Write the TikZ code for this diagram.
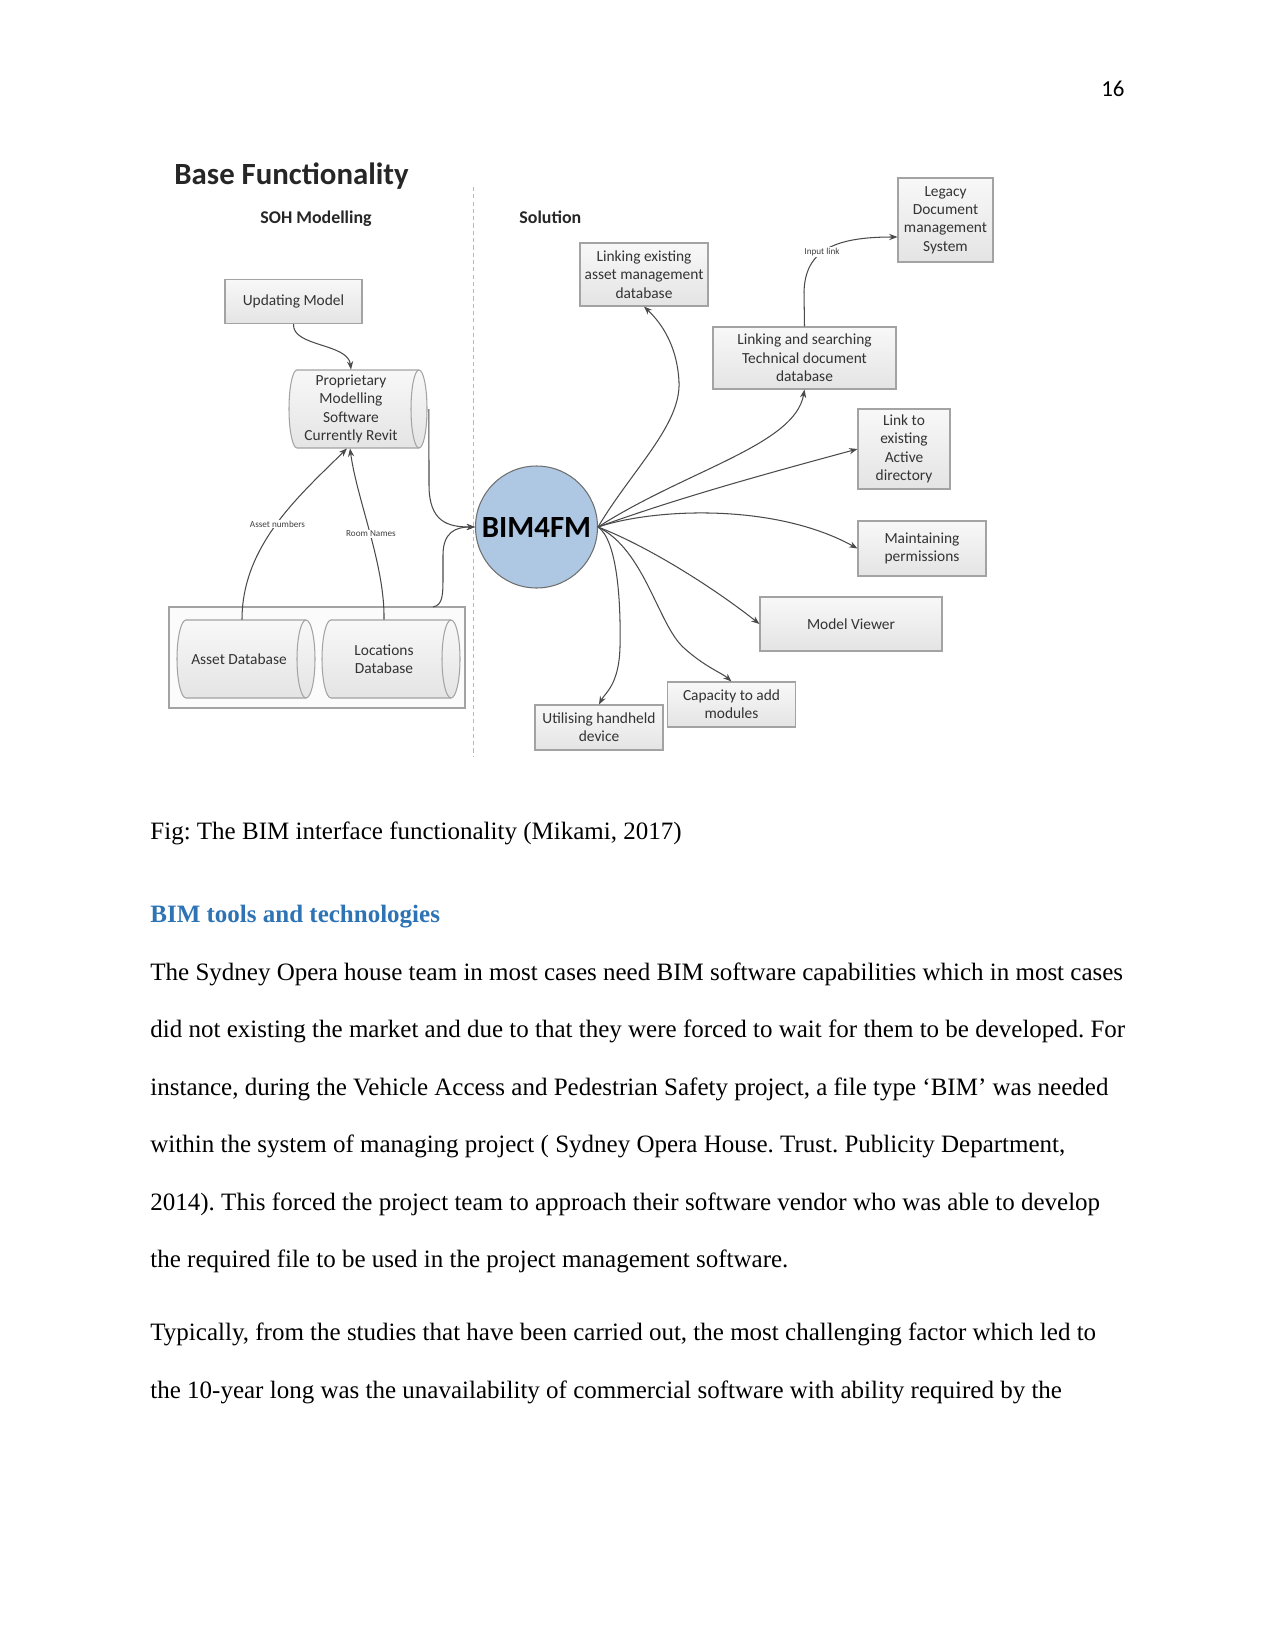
\documentclass[tikz,border=0pt]{standalone}
\usepackage{fontspec}
\setmainfont{Liberation Serif}
\newfontfamily\diafont{Carlito}
\usetikzlibrary{arrows.meta,calc}
\frenchspacing
\definecolor{linec}{HTML}{4A4A4A}
\definecolor{boxline}{HTML}{A3A3A3}
\definecolor{boxtop}{HTML}{F8F8F8}
\definecolor{boxbot}{HTML}{E4E4E4}
\definecolor{bimblue}{HTML}{AEC7E2}
\definecolor{headblue}{HTML}{2E74B5}
\newcommand\pxd[1]{#1*0.48pt}
\tikzset{
  box/.style={draw=boxline, line width=0.5pt, top color=boxtop, bottom color=boxbot,
    inner sep=0pt, align=center, text=black!80,
    font=\diafont\fontsize{7.4}{8.8}\selectfont},
  cyltext/.style={inner sep=0pt, align=center, text=black!80,
    font=\diafont\fontsize{7.4}{8.8}\selectfont},
  conn/.style={draw=linec, line width=0.5pt, -{Stealth[length=4pt,width=3pt]}},
  tinylbl/.style={font=\diafont\fontsize{4.4}{5}\selectfont, fill=white, inner sep=0.4pt, text=black!75},
  body/.style={anchor=base west, inner sep=0pt, font=\fontsize{12}{14}\selectfont},
  cylout/.style={draw=boxline, line width=0.5pt, top color=boxtop, bottom color=boxbot},
  headtxt/.style={anchor=base west, inner sep=0pt, text=black!85},
}
% cylinder outline: x0 y0 x1 y1 rx (pixel units)
\newcommand\cylshape[5]{%
  \path[cylout] (#1+#5,#2) -- (#3-#5,#2)
    arc[start angle=90,end angle=-90,x radius={#5*0.48pt},y radius={(#4-#2)*0.24pt}]
    -- (#1+#5,#4)
    arc[start angle=270,end angle=90,x radius={#5*0.48pt},y radius={(#4-#2)*0.24pt}]
    -- cycle;
  \draw[draw=boxline, line width=0.5pt] (#3-#5,#2)
    arc[start angle=90,end angle=270,x radius={#5*0.48pt},y radius={(#4-#2)*0.24pt}];
}
\begin{document}
\begin{tikzpicture}[x=0.48pt,y=-0.48pt]
\useasboundingbox (0,0) rectangle (1275,1651);
\fill[white] (0,0) rectangle (1275,1651);

% page number
\node[anchor=base east, inner sep=0pt, font=\diafont\fontsize{11}{13}\selectfont] (pagenum) at (1125,97) {16};

% headings of the diagram
\node[headtxt, font=\diafont\bfseries\fontsize{14.8}{17}\selectfont] (title) at (174,185) {Base Functionality};
\node[headtxt, font=\diafont\bfseries\fontsize{8.6}{10}\selectfont] (soh) at (260,223) {SOH Modelling};
\node[headtxt, font=\diafont\bfseries\fontsize{8.6}{10}\selectfont] (sol) at (519,223) {Solution};

% dashed separator
\draw[gray!55, line width=0.4pt, dash pattern=on 2pt off 1.5pt] (473,187) -- (473,756);

% left side
\node[box, minimum width=\pxd{137}, minimum height=\pxd{44}] (upd) at (293.5,301.5) {Updating Model};

\cylshape{289}{370}{427}{448}{8}
\node[cyltext, minimum width=\pxd{119}, minimum height=\pxd{78}] (prop) at (351,409)
  {Proprietary\\Modelling\\Software\\Currently Revit};

\node[draw=boxline, line width=0.5pt, fill=gray!3, minimum width=\pxd{296}, minimum height=\pxd{101}, inner sep=0pt] (dbgroup) at (317,657.5) {};
\cylshape{177}{620}{315}{698}{9}
\node[cyltext, minimum width=\pxd{120}, minimum height=\pxd{78}] (asset) at (239,659) {Asset Database};
\cylshape{322}{620}{460}{698}{9}
\node[cyltext, minimum width=\pxd{120}, minimum height=\pxd{78}] (loc) at (384,659) {Locations\\Database};

% centre
\node[circle, draw=linec!80, line width=0.5pt, fill=bimblue, minimum size=\pxd{122}, inner sep=0pt,
  text=black, font=\diafont\bfseries\fontsize{14.8}{16}\selectfont] (bim) at (536.5,527) {BIM4FM};

% right side boxes
\node[box, minimum width=\pxd{128}, minimum height=\pxd{63}] (lnkasset) at (644,274.5)
  {Linking existing\\asset management\\database};
\node[box, minimum width=\pxd{183}, minimum height=\pxd{62}] (lnksearch) at (804.5,358)
  {Linking and searching\\Technical document\\database};
\node[box, minimum width=\pxd{95}, minimum height=\pxd{84}] (legacy) at (945.5,220)
  {Legacy\\Document\\management\\System};
\node[box, minimum width=\pxd{92}, minimum height=\pxd{80}] (active) at (904,449)
  {Link to\\existing\\Active\\directory};
\node[box, minimum width=\pxd{128}, minimum height=\pxd{55}] (maint) at (922,548.5)
  {Maintaining\\permissions};
\node[box, minimum width=\pxd{182}, minimum height=\pxd{54}] (viewer) at (851,624)
  {Model Viewer};
\node[box, minimum width=\pxd{128}, minimum height=\pxd{45}] (capacity) at (731.5,704.5)
  {Capacity to add\\modules};
\node[box, minimum width=\pxd{128}, minimum height=\pxd{45}] (handheld) at (599,727.5)
  {Utilising handheld\\device};

% connectors, left side
\draw[conn] (upd.south) .. controls (292,347) and (348,343) .. (prop.north);
\draw[conn] ($(asset.north)+(3,0)$) .. controls (242,545) and (300,495) .. ($(prop.south)+(-4,0)$);
\node[tinylbl] (lblasset) at (277.5,524) {Asset numbers};
\draw[conn] (loc.north) .. controls (385,565) and (357,500) .. ($(prop.south)+(-1,0)$);
\node[tinylbl] (lblroom) at (371,534) {Room Names};
\draw[conn] ($(prop.east)+(18,0)$) -- (429,485) .. controls (429,522) and (448,527) .. (bim.west);
\coordinate (grpout) at (433,607);
\draw[conn] (grpout) .. controls (443,605) and (443,595) .. (443,575) -- (443,555)
  .. controls (443,532) and (456,527) .. (bim.west);

% connectors, right side
\draw[conn] (bim.east) .. controls (632,470) and (681,425) .. (679,382)
  .. controls (677,340) and (656,318) .. (lnkasset.south);
\draw[conn] (bim.east) .. controls (687,470) and (795,445) .. (lnksearch.south);
\draw[conn] (bim.east) .. controls (680,497) and (780,470) .. (active.west);
\draw[conn] (bim.east) .. controls (655,508) and (775,503) .. (maint.west);
\draw[conn] (bim.east) .. controls (645,545) and (710,585) .. (viewer.west);
\draw[conn] (bim.east) .. controls (645,550) and (658,625) .. (684,648)
  .. controls (705,667) and (722,673) .. (capacity.north);
\draw[conn] (bim.east) .. controls (617,540) and (621,600) .. (620,647)
  .. controls (619,685) and (605,693) .. (handheld.north);
\draw[conn] (lnksearch.north) -- (804,292) .. controls (805,250) and (835,237) .. ($(legacy.west)+(0,17)$);
\node[tinylbl] (lblinput) at (822,252) {Input link};

% text below the figure
\node[body] (cap) at (150,839) {Fig: The BIM interface functionality (Mikami, 2017)};
\node[body, font=\bfseries\fontsize{12}{14}\selectfont, text=headblue] (head) at (150,922) {BIM tools and technologies};
\node[body] (l1) at (150,980) {The Sydney Opera house team in most cases need BIM software capabilities which in most cases};
\node[body] (l2) at (150,1037.5) {did not existing the market and due to that they were forced to wait for them to be developed. For};
\node[body] (l3) at (150,1095) {instance, during the Vehicle Access and Pedestrian Safety project, a file type ‘BIM’ was needed};
\node[body] (l4) at (150,1152.5) {within the system of managing project ( Sydney Opera House. Trust. Publicity Department,};
\node[body] (l5) at (150,1210) {2014). This forced the project team to approach their software vendor who was able to develop};
\node[body] (l6) at (150,1267.5) {the required file to be used in the project management software.};
\node[body] (l7) at (150,1340) {Typically, from the studies that have been carried out, the most challenging factor which led to};
\node[body] (l8) at (150,1398) {the 10-year long was the unavailability of commercial software with ability required by the};
\end{tikzpicture}
\end{document}
